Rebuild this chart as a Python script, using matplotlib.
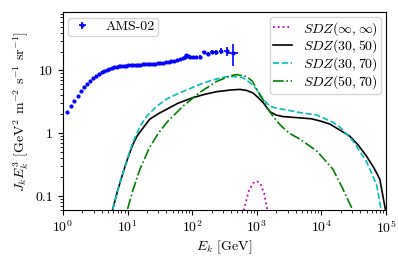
import matplotlib
matplotlib.use("Agg")
import matplotlib.pyplot as plt
from matplotlib.legend_handler import HandlerErrorbar
import numpy as np

plt.rcParams['font.family'] = 'serif'
plt.rcParams['font.serif'] = ['cmr10']
plt.rcParams['mathtext.fontset'] = 'cm'
plt.rcParams['axes.formatter.use_mathtext'] = True
plt.rcParams['font.size'] = 10

# AMS-02 data
ams_E = [1.15, 1.32, 1.5, 1.7, 1.92, 2.15, 2.4, 2.67, 2.96, 3.27, 3.6, 3.96, 4.34, 4.75,
         5.2, 5.7, 6.2, 6.8, 7.4, 8.0, 8.7, 9.5, 10.3, 11.2, 12.2, 13.3, 14.5, 15.8, 17.2,
         18.8, 20.5, 22.4, 24.5, 26.8, 29.4, 32.3, 35.5, 39.1, 43.1, 47.5, 52.6, 58.4, 65.0,
         72.5, 77.0, 81.0, 86.0, 91.0, 102.0, 116.0, 132.0, 151.0, 174.0, 202.0, 237.0,
         281.0, 340.0, 430.0]
ams_J = [2.15, 2.7, 3.3, 3.95, 4.7, 5.4, 6.1, 6.8, 7.5, 8.2, 8.8, 9.3, 9.8, 10.2,
         10.6, 10.9, 11.2, 11.4, 11.6, 11.8, 11.9, 12.0, 12.1, 12.2, 12.3, 12.3, 12.4, 12.4, 12.5,
         12.6, 12.6, 12.7, 12.8, 12.8, 13.0, 13.1, 13.3, 13.5, 13.7, 14.0, 14.3, 14.6, 15.0,
         15.6, 16.5, 17.8, 17.0, 16.6, 16.2, 16.4, 16.6, 19.5, 18.3, 19.8, 19.6,
         20.5, 20.3, 19.0]
ams_yerr = [0.1]*50 + [0.8, 1.0, 1.2, 1.5, 1.8, 2.3, 3.0, 7.0]
ams_xerr = [0.0]*51 + [10, 12, 14, 17, 22, 30, 75]

# model curves
sdz_inf_E = [600, 750, 870, 1000, 1130, 1300, 1500]
sdz_inf_J = [0.05, 0.12, 0.16, 0.173, 0.16, 0.11, 0.05]

sdz3050_E = [5.9, 7, 8, 9, 10, 12, 14, 17, 22, 30, 40, 60, 103, 160, 241, 400, 550, 700,
             870, 1050, 1250, 1600, 2000, 2500, 3500, 4700, 7000, 10000, 13500, 20000,
             27500, 37000, 50000, 65000, 80000, 98000]
sdz3050_J = [0.062, 0.12, 0.19, 0.28, 0.39, 0.65, 0.9, 1.18, 1.67, 2.05, 2.4, 3.0, 3.7, 4.2,
             4.6, 4.9, 5.0, 4.8, 4.4, 3.7, 3.1, 2.2, 1.95, 1.85, 1.8, 1.76, 1.7, 1.55, 1.4,
             1.1, 0.9, 0.65, 0.43, 0.28, 0.186, 0.06]

sdz3070_E = [5.9, 7, 8, 10, 12, 15.6, 20, 28.5, 40, 58, 90, 132, 200, 345, 450, 610, 780,
             1000, 1120, 1440, 1600, 2050, 2900, 4500, 8500, 15000, 19400, 31000, 40000,
             50000, 60000, 72000, 83000]
sdz3070_J = [0.062, 0.12, 0.19, 0.4, 0.7, 1.29, 1.9, 2.7, 3.5, 4.2, 5.1, 6.0, 7.0, 8.0, 8.0,
             7.7, 6.4, 5.0, 3.9, 3.0, 2.7, 2.5, 2.35, 2.15, 1.95, 1.5, 1.25, 0.75, 0.5,
             0.35, 0.23, 0.145, 0.063]

sdz5070_E = [10, 12, 15.6, 22, 30, 40.7, 72, 132, 240, 400, 490, 700, 850, 1000, 1200,
             1440, 1700, 2050, 2500, 3200, 4700, 8500, 15000, 21500, 30000]
sdz5070_J = [0.062, 0.12, 0.27, 0.6, 1.0, 1.5, 2.7, 4.5, 6.7, 8.3, 8.6, 8.0, 6.8, 5.0, 3.7,
             2.6, 2.0, 1.55, 1.25, 1.0, 0.8, 0.52, 0.27, 0.13, 0.062]

fig = plt.figure(figsize=(3.98, 2.58), dpi=100)
ax = fig.add_axes([0.158, 0.186, 0.812, 0.767])

ams = ax.errorbar(ams_E, ams_J, xerr=ams_xerr, yerr=ams_yerr, fmt='.', color='b',
                  markersize=4, elinewidth=1.2, label='AMS-02')
l1, = ax.plot(sdz_inf_E, sdz_inf_J, ':', color='m', lw=1.3, label=r'$SDZ(\infty,\infty)$')
l2, = ax.plot(sdz3050_E, sdz3050_J, '-', color='k', lw=1.2, label=r'$SDZ(30,50)$')
l3, = ax.plot(sdz3070_E, sdz3070_J, '--', color='c', lw=1.2, label=r'$SDZ(30,70)$')
l4, = ax.plot(sdz5070_E, sdz5070_J, '-.', color='g', lw=1.2, label=r'$SDZ(50,70)$')

ax.set_xscale('log')
ax.set_yscale('log')
ax.set_xlim(1, 1e5)
ax.set_ylim(0.06, 85)
ax.set_yticks([0.1, 1, 10])
ax.set_yticklabels(['0.1', '1', '10'])
ax.set_xlabel(r'$E_k$ [GeV]', labelpad=2)
ax.set_ylabel(r'$J_k E_k^3$ [GeV$^2$ m$^{-2}$ s$^{-1}$ sr$^{-1}$]', labelpad=3)

leg1 = ax.legend(handles=[ams], loc='upper left', fontsize=10, handlelength=1.6,
                 handletextpad=0.9, borderpad=0.2, borderaxespad=0.4,
                 handler_map={type(ams): HandlerErrorbar(xerr_size=0.25, yerr_size=0.25)})
ax.add_artist(leg1)
ax.legend(handles=[l1, l2, l3, l4], loc='upper right', fontsize=10,
          labelspacing=0.0, handlelength=1.4, borderpad=0.2, borderaxespad=0.35)

fig.savefig('out.png', dpi=100)
